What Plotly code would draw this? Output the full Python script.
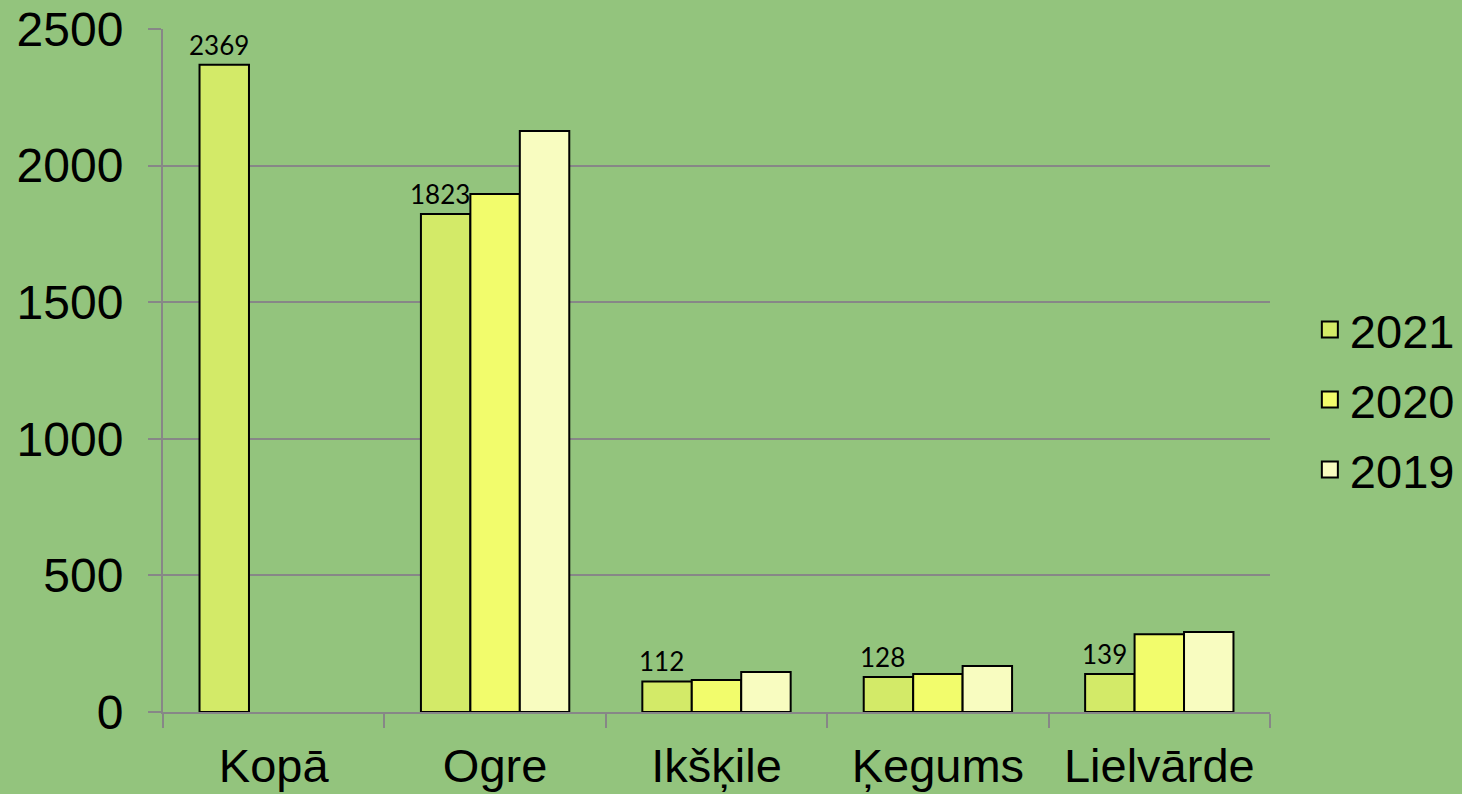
import plotly.graph_objects as go

categories = ["Kopā", "Ogre", "Ikšķile", "Ķegums", "Lielvārde"]
series_names = ["2021", "2020", "2019"]
values_2021 = [2369, 1823, 112, 128, 139]
values_2020 = [None, 1896, 117, 139, 285]
values_2019 = [None, 2127, 146, 168, 293]
y_ticks = [0, 500, 1000, 1500, 2000, 2500]

colors = ["#D3EA68", "#F2FC6C", "#F8FCC0"]
series_values = [values_2021, values_2020, values_2019]

fig = go.Figure()
for i, (name, vals) in enumerate(zip(series_names, series_values)):
    fig.add_trace(go.Bar(
        x=categories, y=vals, name=name, showlegend=False,
        marker=dict(color=colors[i], line=dict(color="black", width=2)),
    ))
# legend entries with larger square swatches
for i, name in enumerate(series_names):
    fig.add_trace(go.Scatter(
        x=[None], y=[None], mode="markers", name=name, legendgroup=name,
        marker=dict(symbol="square", size=22, color=colors[i],
                    line=dict(color="black", width=2)),
    ))

# data labels for the 2021 series, placed above-left of each 2021 bar
for cat, v in zip(categories, values_2021):
    fig.add_annotation(
        x=cat, y=v, text=str(v), showarrow=False,
        xanchor="center", yanchor="bottom", xshift=-55, yshift=2,
        font=dict(family="Lato", size=26, color="black"),
    )

fig.update_layout(
    width=1462, height=794,
    paper_bgcolor="#93C47D", plot_bgcolor="#93C47D",
    margin=dict(l=163, r=192, t=29, b=82, autoexpand=False),
    barmode="group", bargap=0.33, bargroupgap=0,
    font=dict(family="Liberation Sans", size=48, color="black"),
    showlegend=True,
    legend=dict(x=1.036, y=0.457, yanchor="middle", xanchor="left",
                font=dict(size=47), bgcolor="rgba(0,0,0,0)",
                tracegroupgap=6, itemsizing="trace", itemwidth=30),
)
fig.update_yaxes(range=[0, 2500], tickvals=y_ticks, showgrid=True,
                 gridcolor="#878787", gridwidth=2, showline=True,
                 linecolor="#878787", linewidth=2, ticks="outside",
                 ticklen=13, tickcolor="#878787", tickwidth=2,
                 zeroline=False, tickfont=dict(size=48),
                 ticklabelstandoff=15, automargin=False)
fig.update_xaxes(showline=True, linecolor="#878787", linewidth=2,
                 ticks="outside", tickson="boundaries", ticklen=14,
                 tickcolor="#878787", tickwidth=2, tickfont=dict(size=47),
                 ticklabelstandoff=12, automargin=False)

fig.write_html("out.html", config={"displayModeBar": False},
               post_script="document.body.style.margin='0';document.body.style.overflow='hidden';")
